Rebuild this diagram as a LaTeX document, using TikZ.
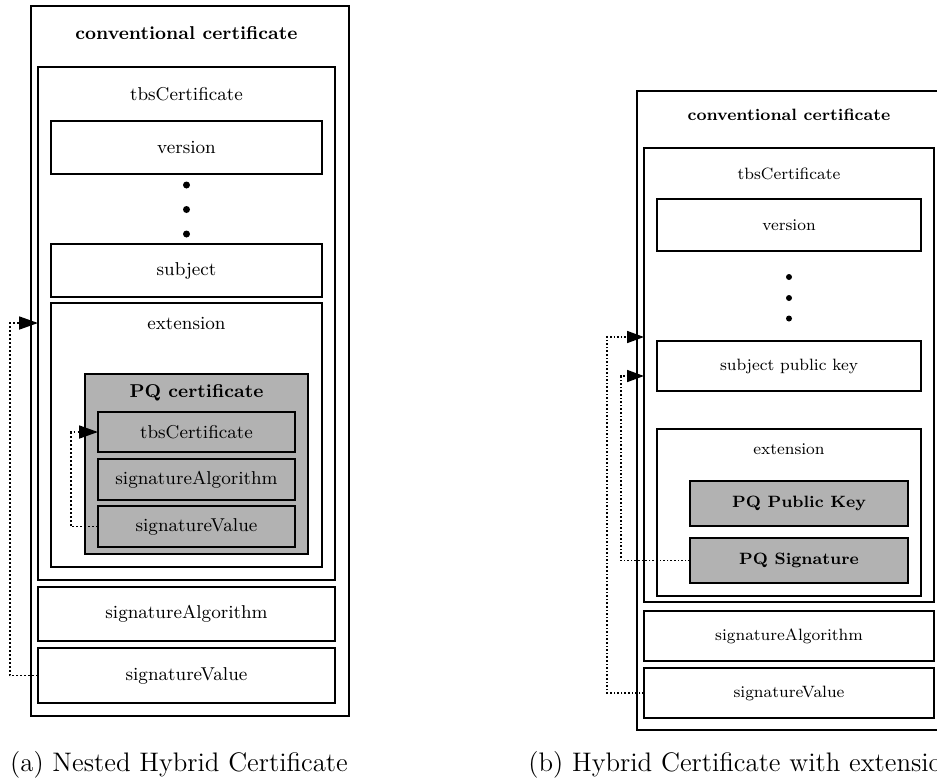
\documentclass[tikz,border=0pt]{standalone}
\usetikzlibrary{arrows.meta}
\begin{document}
\begin{tikzpicture}[x=0.5pt,y=-0.5pt,
  sz/.style 2 args={minimum width=#1*0.5pt, minimum height=#2*0.5pt, inner sep=0pt, outer sep=0pt},
  fontA/.style={font=\fontsize{9.3}{11}\selectfont},
  fontB/.style={font=\fontsize{8.2}{10}\selectfont},
  boxA/.style={draw, line width=0.9pt, fill=white, fontA},
  boxB/.style={draw, line width=0.8pt, fill=white, fontB},
  pqA/.style={boxA, fill=black!30},
  pqB/.style={boxB, fill=black!30},
  lbl/.style={inner sep=0pt},
  linkA/.style={line width=0.9pt, dash pattern=on 0.9pt off 1.1pt,
    -{Triangle[length=9.5pt,width=6.5pt]}},
  linkB/.style={line width=0.8pt, dash pattern=on 0.8pt off 1pt,
    -{Triangle[length=8.5pt,width=6pt]}},
  capt/.style={font=\fontsize{13.4}{16}\selectfont, inner sep=0pt, anchor=base}
]
\useasboundingbox (0,0) rectangle (937,783);
\clip (0,0) rectangle (937,783);

% ---------- (a) nested hybrid certificate ----------
\node[boxA, sz={318}{710}] (a-cert) at (190,361) {};
\node[lbl, font=\fontsize{9.3}{11}\selectfont\bfseries] (a-title) at (186.5,33) {conventional certificate};
\node[boxA, sz={297}{513}] (a-tbs) at (186.5,323.5) {};
\node[lbl, fontA] (a-tbslbl) at (186.5,94) {tbsCertificate};
\node[boxA, sz={271}{53}] (a-ver) at (186.5,147.5) {version};
\fill (186.5,185) circle[radius=1.75pt];
\fill (186.5,209.5) circle[radius=1.75pt];
\fill (186.5,234) circle[radius=1.75pt];
\node[boxA, sz={271}{53}] (a-subj) at (186.5,270.5) {subject};
\node[boxA, sz={271}{264}] (a-ext) at (186.5,435) {};
\node[lbl, fontA] (a-extlbl) at (186.5,323) {extension};
\node[pqA, sz={223}{180}] (a-pq) at (196.5,464) {};
\node[lbl, font=\fontsize{9.3}{11}\selectfont\bfseries] (a-pqlbl) at (196.5,393) {PQ certificate};
\node[pqA, sz={197}{40}] (a-pqtbs) at (196.5,432) {tbsCertificate};
\node[pqA, sz={197}{41}] (a-pqalg) at (196.5,479.5) {signatureAlgorithm};
\node[pqA, sz={197}{41}] (a-pqsig) at (196.5,526.5) {signatureValue};
\node[boxA, sz={297}{54}] (a-alg) at (186.5,614) {signatureAlgorithm};
\node[boxA, sz={297}{55}] (a-sig) at (186.5,675.5) {signatureValue};

\coordinate (a-in) at (a-tbs.west |- a-extlbl);
\draw[linkA] (a-pqsig.west) -- ++(-27,0) |- (a-pqtbs.west);
\draw[linkA] (a-sig.west) -- ++(-28,0) |- (a-in);

\node[capt] (a-capt) at (179,771) {(a) Nested Hybrid Certificate};

% ---------- (b) hybrid certificate with extensions ----------
\node[boxB, sz={304}{639}] (b-cert) at (789,410.5) {};
\node[lbl, font=\fontsize{8.2}{10}\selectfont\bfseries] (b-title) at (789,115) {conventional certificate};
\node[boxB, sz={290}{454}] (b-tbs) at (789,375) {};
\node[lbl, fontB] (b-tbslbl) at (789,174) {tbsCertificate};
\node[boxB, sz={264}{52}] (b-ver) at (789,225) {version};
\fill (789,277) circle[radius=1.5pt];
\fill (789,298) circle[radius=1.5pt];
\fill (789,318.5) circle[radius=1.5pt];
\node[boxB, sz={264}{50}] (b-spk) at (789,366) {subject public key};
\node[boxB, sz={264}{167}] (b-ext) at (789,512.5) {};
\node[lbl, fontB] (b-extlbl) at (789,449) {extension};
\node[pqB, sz={218}{45}, font=\fontsize{8.2}{10}\selectfont\bfseries] (b-pqkey) at (799,503.5) {PQ Public Key};
\node[pqB, sz={218}{45}, font=\fontsize{8.2}{10}\selectfont\bfseries] (b-pqsig) at (799,560.5) {PQ Signature};
\node[boxB, sz={290}{50}] (b-alg) at (789,636) {signatureAlgorithm};
\node[boxB, sz={290}{50}] (b-sig) at (789,693) {signatureValue};

\coordinate (b-in1) at (644,337);
\coordinate (b-in2) at (644,376);
\draw[linkB] (b-sig.west) -- ++(-37,0) |- (b-in1);
\draw[linkB] (b-pqsig.west) -- ++(-69,0) |- (b-in2);

\node[capt, anchor=base west] (b-capt) at (528,771) {(b) Hybrid Certificate with extensions};
\end{tikzpicture}
\end{document}
